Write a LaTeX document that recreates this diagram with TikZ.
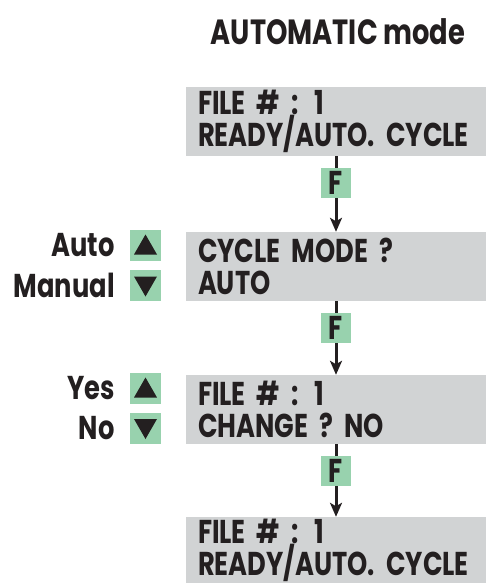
\documentclass[tikz,border=0pt]{standalone}
\usepackage{fontspec}
\setmainfont{Poppins}[FakeStretch=0.78]
\usepackage{tikz}
\usetikzlibrary{arrows.meta,positioning,calc}
\definecolor{dispgray}{RGB}{209,211,212}
\definecolor{keygreen}{RGB}{152,210,174}
\definecolor{inkdark}{RGB}{35,31,32}

\begin{document}
\begin{tikzpicture}[x=1pt,y=-1pt,
  font=\bfseries\fontsize{33}{32}\selectfont,text=inkdark,
  screen/.style={fill=dispgray,minimum width=300pt,minimum height=69pt,text width=276pt,align=left,inner xsep=12pt,inner ysep=0pt},
  fkey/.style={fill=keygreen,minimum size=30pt,inner sep=0pt},
  arrkey/.style={fill=keygreen,minimum size=31pt,inner sep=0pt},
  keylabel/.style={anchor=east,inner sep=0pt},
  flow/.style={-{Stealth[length=14pt,width=12pt,inset=3.5pt]},draw=inkdark,line width=3pt}]

\path[use as bounding box] (0,0) rectangle (486,583);
\node[font=\bfseries\fontsize{35}{35}\selectfont] (title) at (338,32) {AUTOMATIC mode};

% display screens
\node[screen] (scr1) at (336,121.5) {FILE \# : 1\\READY/AUTO. CYCLE};
\node[screen] (scr2) at (336,266.5) {CYCLE MODE ?\\AUTO};
\node[screen] (scr3) at (336,409.5) {FILE \# : 1\\CHANGE ? NO};
\node[screen,minimum height=66pt] (scr4) at (336,550) {FILE \# : 1\\READY/AUTO. CYCLE};

% F key between screens
\foreach \aa/\bb in {scr1/scr2,scr2/scr3,scr3/scr4}{
  \draw[flow] (\aa.south)--(\bb.north);
  \node[fkey,below=12pt of \aa.south] (f\aa) {F};
}

% arrow keys on the left
\foreach \nm/\yy/\lab/\dir in {kauto/245.5/Auto/1,kmanual/285.5/Manual/-1,kyes/388.5/Yes/1,kno/428/No/-1}{
  \node[arrkey] (\nm) at (145.5,\yy) {};
  \fill[inkdark] ($(\nm.center)+(-11.5,9*\dir)$)--($(\nm.center)+(11.5,9*\dir)$)--($(\nm.center)+(0,-11*\dir)$)--cycle;
  \node[keylabel] (l\nm) at ($(\nm.west)+(-15,0)$) {\lab};
}

\end{tikzpicture}
\end{document}
